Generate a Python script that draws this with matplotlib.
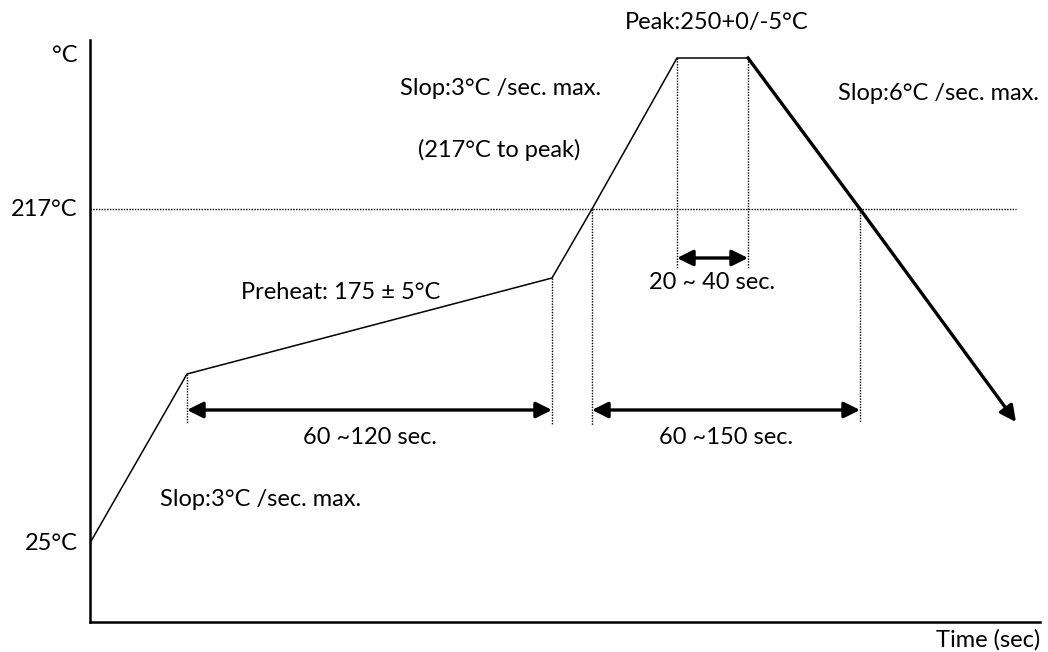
import matplotlib.pyplot as plt

plt.rcParams['font.family'] = ['Lato', 'DejaVu Sans']

# schematic profile, x = time units from origin, y = diagram level from origin
ramp_t = [0, 97, 462, 502, 587, 658]
ramp_lv = [79, 248, 344, 413, 564, 564]
cool_t = [658, 770, 926]
cool_lv = [564, 413, 200]

lv_25 = 79
lv_217 = 413
lv_top = 567

# vertical dotted markers: (time, from level, to level)
vmarks = [(97, 248, 199), (462, 344, 197), (502, 413, 197),
          (587, 564, 354), (658, 564, 354), (770, 413, 199)]
# double arrows: (t0, t1, level)
spans = [(97, 462, 212), (502, 770, 212), (587, 658, 364)]

fig = plt.figure(figsize=(10.48, 6.52), dpi=100)
ax = fig.add_axes([90/1048, 30/652, 950/1048, 582/652])
ax.set_xlim(0, 950)
ax.set_ylim(0, 582)
for s in ['top', 'right']:
    ax.spines[s].set_visible(False)
ax.spines['left'].set_linewidth(1.8)
ax.spines['bottom'].set_linewidth(1.8)
ax.set_xticks([])
ax.set_yticks([])

ax.plot(ramp_t, ramp_lv, color='black', lw=1.1, solid_capstyle='round')
ax.plot(cool_t[:-1], cool_lv[:-1], color='black', lw=2.4)
ax.annotate('', xy=(cool_t[-1], cool_lv[-1]), xytext=(cool_t[1], cool_lv[1]),
            arrowprops=dict(arrowstyle='-|>', color='black', lw=2.4,
                            mutation_scale=24, shrinkA=0, shrinkB=0))

ax.plot([0, 926], [lv_217, lv_217], color='black', lw=1.0, ls=(0, (1, 1)))
for t, a, b in vmarks:
    ax.plot([t, t], [a, b], color='black', lw=1.0, ls=(0, (1, 1)))
for t0, t1, lv in spans:
    ax.annotate('', xy=(t1, lv), xytext=(t0, lv),
                arrowprops=dict(arrowstyle='<|-|>', color='black', lw=2.4,
                                mutation_scale=24, shrinkA=0, shrinkB=0))

fs = 17
kw = dict(fontsize=fs, clip_on=False)
ax.text(-12, lv_top, '°C', ha='right', va='center', **kw)
ax.text(-12, lv_217, '217°C', ha='right', va='center', **kw)
ax.text(-12, lv_25, '25°C', ha='right', va='center', **kw)
ax.text(627, 600, 'Peak:250+0/-5°C', ha='center', va='center', **kw)
ax.text(310, 534, 'Slop:3°C /sec. max.', ha='left', va='center', **kw)
ax.text(328, 472, '(217°C to peak)', ha='left', va='center', **kw)
ax.text(748, 529, 'Slop:6°C /sec. max.', ha='left', va='center', **kw)
ax.text(151, 330, 'Preheat: 175 ± 5°C', ha='left', va='center', **kw)
ax.text(622, 340, '20 ~ 40 sec.', ha='center', va='center', **kw)
ax.text(280, 185, '60 ~120 sec.', ha='center', va='center', **kw)
ax.text(636, 185, '60 ~150 sec.', ha='center', va='center', **kw)
ax.text(70, 123, 'Slop:3°C /sec. max.', ha='left', va='center', **kw)
ax.text(950, -18, 'Time (sec)', ha='right', va='center', **kw)

fig.savefig('out.png', dpi=100)
